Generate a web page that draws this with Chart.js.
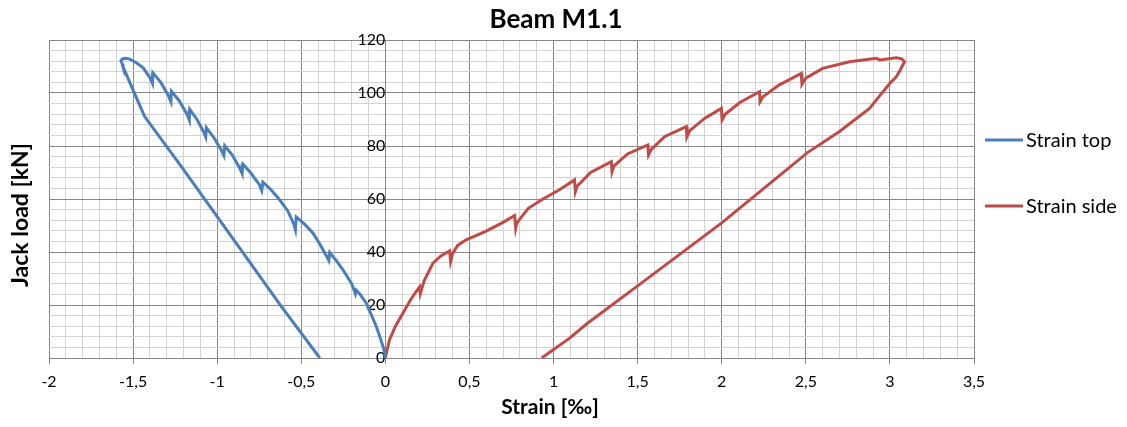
<!DOCTYPE html>
<html>
<head>
<meta charset="utf-8">
<title>Beam M1.1</title>
<script src="https://cdn.jsdelivr.net/npm/chart.js@4.4.1/dist/chart.umd.min.js"></script>
<style>
    body { margin: 0; background: #fff; }
    #wrap { width: 1127px; height: 427px; }
</style>
</head>
<body>
<div id="wrap"><canvas id="beamChart"></canvas></div>
<script>

// strain top (loading, then unloading)
var topStrain = [0, -0.008, -0.03, -0.054, -0.085, -0.113, -0.15, -0.173, -0.178, -0.2,
    -0.252, -0.295, -0.331, -0.336, -0.35, -0.39, -0.43, -0.48, -0.53, -0.535,
    -0.545, -0.58, -0.629, -0.68, -0.728, -0.735, -0.75, -0.8, -0.847, -0.852,
    -0.865, -0.91, -0.955, -0.96, -0.975, -1.02, -1.064, -1.068, -1.08, -1.12,
    -1.163, -1.166, -1.18, -1.225, -1.272, -1.275, -1.29, -1.335, -1.382, -1.385,
    -1.4, -1.44, -1.48, -1.52, -1.545, -1.565, -1.572,
    -1.565, -1.56, -1.53, -1.5, -1.465, -1.431, -1.203, -0.866, -0.62, -0.39];
var topLoad = [0, 3.1, 7.5, 11.9, 16.5, 20.7, 24, 25.6, 24.2, 28,
    33.3, 37, 39.8, 36.8, 38.5, 43, 47.1, 50.5, 53.2, 48.4,
    50.6, 55.5, 59.7, 63.5, 66.4, 63.2, 65.5, 69.8, 73.2, 69.6,
    71.5, 76.6, 80.1, 76.4, 78.4, 83.2, 86.9, 83.4, 85.3, 90,
    93.8, 89.8, 92, 97, 100.7, 96.7, 99, 104, 107.6, 103.7,
    105.8, 109.5, 111.4, 112.8, 113.1, 112.8, 112.2,
    111, 109.9, 105.5, 101.1, 96, 91.1, 71.4, 41.5, 19.6, 0];

// strain side (loading, then unloading)
var sideStrain = [0, 0.01, 0.025, 0.06, 0.105, 0.15, 0.184, 0.204, 0.208, 0.23,
    0.283, 0.33, 0.382, 0.388, 0.4, 0.43, 0.48, 0.6, 0.7, 0.769,
    0.775, 0.782, 0.85, 0.937, 1.03, 1.125, 1.13, 1.14, 1.22, 1.344,
    1.348, 1.36, 1.44, 1.561, 1.565, 1.58, 1.66, 1.789, 1.793, 1.81,
    1.9, 1.998, 2.002, 2.02, 2.11, 2.225, 2.228, 2.245, 2.34, 2.473,
    2.477, 2.5, 2.6, 2.76, 2.919, 2.94, 2.96, 3.038, 3.07, 3.087,
    3.06, 3.038, 3.0, 2.94, 2.879, 2.7, 2.51, 2.0, 1.5, 1.2, 1.096, 1.0, 0.93];
var sideLoad = [0, 3, 6.9, 12, 17, 22, 25.1, 26.8, 24.3, 29,
    35.8, 38.5, 40.4, 36.4, 39.5, 42.5, 44.6, 47.9, 51.2, 53.8,
    49, 51, 56.5, 60, 63.3, 67.2, 62.8, 64.8, 70, 74.1,
    70.3, 72.5, 77, 80.4, 76.6, 78.6, 83.5, 87.3, 83.5, 85.8,
    90.5, 94.2, 89.8, 92, 96.5, 100.5, 96.7, 98.6, 103, 107.4,
    103.3, 105.6, 109.3, 111.8, 113.1, 112.5, 112.6, 113.3, 112.9, 111.8,
    108.5, 106.1, 103.7, 99, 94.2, 85.5, 77.5, 51, 27.2, 13, 7.5, 3.2, 0];

var seriesNames = ["Strain top", "Strain side"];
var xMajor = [-2, -1.5, -1, -0.5, 0, 0.5, 1, 1.5, 2, 2.5, 3, 3.5];
var yMajor = [0, 20, 40, 60, 80, 100, 120];

var blue = "#4a7ebb";
var red = "#be4b48";
var majorGrid = "#878787";
var minorGrid = "#d3d3d3";

function toPoints(xs, ys) {
    var pts = [];
    for (var i = 0; i < xs.length; i++) {
        pts.push({ x: xs[i], y: ys[i] });
    }
    return pts;
}

function isMajor(list, value) {
    var v = Math.round(value * 10) / 10;
    return list.indexOf(v) >= 0;
}

// titles and legend, drawn on top of the chart
var extraText = {
    id: "extraText",
    afterDraw: function (chart) {
        var ctx = chart.ctx;
        ctx.save();
        ctx.fillStyle = "#000";
        ctx.textBaseline = "middle";
        ctx.textAlign = "center";

        ctx.font = "bold 26px Lato";
        ctx.fillText("Beam M1.1", 556, 20);

        ctx.font = "bold 21px Lato";
        ctx.fillText("Strain [‰]", 550, 407);

        ctx.save();
        ctx.translate(21, 215);
        ctx.rotate(-Math.PI / 2);
        ctx.font = "bold 23px Lato";
        ctx.fillText("Jack load [kN]", 0, 0);
        ctx.restore();

        ctx.textAlign = "left";
        ctx.font = "20px Lato";
        chart.data.datasets.forEach(function (ds, i) {
            var y = 140 + i * 66;
            ctx.strokeStyle = ds.borderColor;
            ctx.lineWidth = 3;
            ctx.beginPath();
            ctx.moveTo(985, y);
            ctx.lineTo(1023, y);
            ctx.stroke();
            ctx.fillText(ds.label, 1026, y + 1);
        });
        ctx.restore();
    }
};

new Chart(document.getElementById("beamChart"), {
    type: "scatter",
    data: {
        datasets: [{
            label: seriesNames[0],
            data: toPoints(topStrain, topLoad),
            showLine: true,
            borderColor: blue,
            backgroundColor: blue,
            borderWidth: 3,
            pointRadius: 0,
            tension: 0
        }, {
            label: seriesNames[1],
            data: toPoints(sideStrain, sideLoad),
            showLine: true,
            borderColor: red,
            backgroundColor: red,
            borderWidth: 3,
            pointRadius: 0,
            tension: 0
        }]
    },
    options: {
        responsive: true,
        maintainAspectRatio: false,
        animation: false,
        layout: {
            padding: { left: 49, right: 153, top: 40, bottom: 0 }
        },
        plugins: {
            legend: { display: false },
            title: { display: false },
            tooltip: { enabled: false }
        },
        scales: {
            x: {
                type: "linear",
                min: -2,
                max: 3.5,
                afterFit: function (scale) { scale.height = 69; },
                border: { color: majorGrid },
                grid: {
                    color: function (c) { return isMajor(xMajor, c.tick.value) ? majorGrid : minorGrid; },
                    tickColor: function (c) { return isMajor(xMajor, c.tick.value) ? majorGrid : "rgba(0,0,0,0)"; },
                    tickLength: 6
                },
                ticks: {
                    stepSize: 0.1,
                    maxTicksLimit: 100,
                    autoSkip: false,
                    maxRotation: 0,
                    padding: 8,
                    color: "#000",
                    font: { family: "Lato", size: 16 },
                    callback: function (value) {
                        if (!isMajor(xMajor, value)) return "";
                        return String(Math.round(value * 10) / 10).replace(".", ",");
                    }
                }
            },
            y: {
                type: "linear",
                position: { x: 0 },
                min: 0,
                max: 120,
                border: { color: majorGrid },
                grid: {
                    color: function (c) { return yMajor.indexOf(c.tick.value) >= 0 ? majorGrid : minorGrid; },
                    drawTicks: false
                },
                ticks: {
                    stepSize: 4,
                    maxTicksLimit: 100,
                    autoSkip: false,
                    padding: 17,
                    color: "#000",
                    font: { family: "Lato", size: 16 },
                    callback: function (value) {
                        return yMajor.indexOf(value) >= 0 ? String(value) : "";
                    }
                }
            }
        }
    },
    plugins: [extraText]
});

</script>
</body>
</html>
